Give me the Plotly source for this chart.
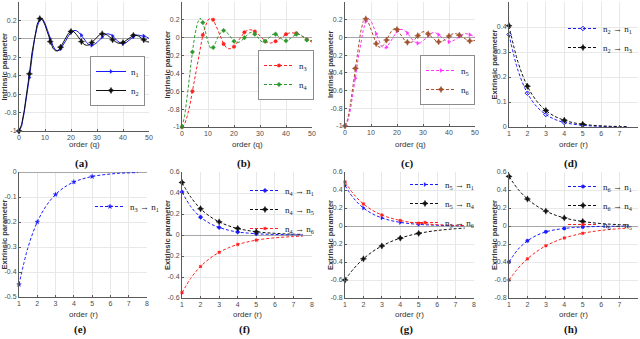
import plotly.graph_objects as go

W, H = 640, 339

# ---------------- data ----------------
q = list(range(0, 51))
n1 = [-1, -0.95, -0.8, -0.63, -0.42, -0.2, 0.0, 0.13, 0.21, 0.22, 0.17, 0.09, 0.0, -0.07, -0.12, -0.13,
      -0.11, -0.07, -0.02, 0.03, 0.07, 0.09, 0.09, 0.07, 0.04, 0.0, -0.04, -0.065, -0.07, -0.06, -0.04,
      -0.01, 0.02, 0.045, 0.055, 0.05, 0.03, 0.0, -0.025, -0.045, -0.05, -0.045, -0.025, 0.0, 0.025,
      0.04, 0.04, 0.035, 0.03, 0.02, 0.005]
n2 = [-1, -0.93, -0.78, -0.6, -0.38, -0.15, 0.03, 0.16, 0.22, 0.21, 0.15, 0.06, -0.03, -0.1, -0.13, -0.13,
      -0.09, -0.04, 0.02, 0.06, 0.08, 0.08, 0.05, 0.01, -0.03, -0.06, -0.07, -0.065, -0.04, -0.01, 0.02,
      0.045, 0.055, 0.055, 0.04, 0.015, -0.01, -0.03, -0.045, -0.05, -0.04, -0.02, 0.005, 0.025, 0.038,
      0.04, 0.03, 0.01, -0.01, -0.03, -0.035]
n3 = [-1, -0.97, -0.88, -0.76, -0.6, -0.44, -0.27, -0.11, 0.03, 0.13, 0.2, 0.22, 0.2, 0.14, 0.07, -0.01,
      -0.07, -0.11, -0.125, -0.12, -0.1, -0.06, -0.02, 0.02, 0.06, 0.08, 0.09, 0.085, 0.07, 0.05, 0.02,
      -0.01, -0.04, -0.055, -0.06, -0.055, -0.04, -0.02, 0.0, 0.02, 0.04, 0.05, 0.055, 0.055, 0.05, 0.04,
      0.02, 0.0, -0.02, -0.04, -0.05]
n4 = [-1, -0.88, -0.66, -0.4, -0.16, 0.04, 0.17, 0.22, 0.17, 0.07, -0.05, -0.12, -0.11, -0.05, 0.02, 0.06,
      0.08, 0.07, 0.03, -0.01, -0.04, -0.055, -0.05, -0.03, 0.0, 0.03, 0.055, 0.06, 0.04, 0.01, -0.03,
      -0.05, -0.04, -0.01, 0.02, 0.04, 0.04, 0.02, -0.01, -0.03, -0.035, -0.025, 0.0, 0.025, 0.04, 0.04,
      0.02, -0.005, -0.025, -0.035, -0.03]
n5 = [-1, -0.95, -0.83, -0.66, -0.46, -0.25, -0.06, 0.08, 0.18, 0.21, 0.19, 0.12, 0.04, -0.04, -0.1, -0.12,
      -0.11, -0.07, -0.02, 0.03, 0.07, 0.09, 0.09, 0.08, 0.05, 0.01, -0.03, -0.055, -0.065, -0.06, -0.04,
      -0.01, 0.02, 0.045, 0.055, 0.05, 0.03, 0.005, -0.02, -0.04, -0.05, -0.045, -0.03, -0.01, 0.015,
      0.035, 0.045, 0.04, 0.03, 0.02, 0.0]
n6 = [-1, -0.93, -0.77, -0.57, -0.35, -0.13, 0.06, 0.18, 0.21, 0.17, 0.09, 0.0, -0.07, -0.11, -0.11, -0.08,
      -0.03, 0.03, 0.08, 0.1, 0.09, 0.05, 0.0, -0.035, -0.055, -0.06, -0.05, -0.02, 0.02, 0.05, 0.065,
      0.06, 0.04, 0.01, -0.02, -0.04, -0.05, -0.05, -0.035, -0.01, 0.015, 0.035, 0.045, 0.04, 0.025,
      0.005, -0.015, -0.03, -0.04, -0.04, -0.035]

r = [1, 1.5, 2, 2.5, 3, 3.5, 4, 4.5, 5, 5.5, 6, 6.5, 7, 7.5]
d_2to1 = [0.37, 0.224, 0.135, 0.082, 0.05, 0.03, 0.018, 0.011, 0.007, 0.004, 0.0025, 0.0015, 0.001, 0.0005]
d_2to3 = [0.405, 0.257, 0.163, 0.104, 0.066, 0.042, 0.027, 0.017, 0.011, 0.007, 0.0045, 0.003, 0.002, 0.0012]
e_3to1 = [-0.45, -0.3, -0.2, -0.134, -0.09, -0.06, -0.04, -0.027, -0.018, -0.012, -0.008, -0.005, -0.0035, -0.0023]
f_4to1 = [0.41, 0.264, 0.17, 0.11, 0.072, 0.046, 0.028, 0.019, 0.012, 0.008, 0.005, 0.003, 0.002, 0.0013]
f_4to5 = [0.5, 0.354, 0.25, 0.177, 0.125, 0.088, 0.062, 0.044, 0.031, 0.022, 0.016, 0.011, 0.008, 0.0055]
f_4to6 = [-0.55, -0.405, -0.3, -0.223, -0.165, -0.122, -0.09, -0.067, -0.049, -0.036, -0.027, -0.02, -0.015, -0.011]
g_5to1 = [0.45, 0.3, 0.2, 0.134, 0.09, 0.06, 0.04, 0.027, 0.018, 0.012, 0.008, 0.005, 0.0035, 0.0023]
g_5to4 = [-0.6, -0.468, -0.365, -0.284, -0.222, -0.173, -0.135, -0.105, -0.082, -0.064, -0.05, -0.039, -0.03, -0.023]
g_5to6 = [0.49, 0.346, 0.245, 0.173, 0.122, 0.087, 0.061, 0.043, 0.031, 0.022, 0.015, 0.011, 0.008, 0.0055]
h_6to1 = [-0.4, -0.257, -0.165, -0.104, -0.065, -0.042, -0.027, -0.017, -0.011, -0.007, -0.0045, -0.003, -0.002, -0.0012]
h_6to4 = [0.55, 0.406, 0.3, 0.223, 0.166, 0.122, 0.09, 0.067, 0.05, 0.037, 0.027, 0.02, 0.015, 0.011]
h_6to5 = [-0.6, -0.468, -0.365, -0.284, -0.22, -0.172, -0.133, -0.104, -0.081, -0.063, -0.049, -0.038, -0.03, -0.023]

q_ticks = [0, 10, 20, 30, 40, 50]
q_ticktext = ["0", "10", "20", "30", "40", "50"]
r_ticks = [1, 2, 3, 4, 5, 6, 7, 8]
r_ticktext = ["1", "2", "3", "4", "5", "6", "7", "8"]
intr_yticks = [-1, -0.8, -0.6, -0.4, -0.2, 0, 0.2, 0.4]
intr_ytext = ["-1", "-0.8", "-0.6", "-0.4", "-0.2", "0", "0.2", "0.4"]
d_yticks = [0, 0.1, 0.2, 0.3, 0.4, 0.5]
d_ytext = ["0", "0.1", "0.2", "0.3", "0.4", "0.5"]
e_yticks = [-0.5, -0.4, -0.3, -0.2, -0.1, 0]
e_ytext = ["-0.5", "-0.4", "-0.3", "-0.2", "-0.1", "0"]
f_yticks = [-0.6, -0.4, -0.2, 0, 0.2, 0.4, 0.6]
f_ytext = ["-0.6", "-0.4", "-0.2", "0", "0.2", "0.4", "0.6"]
gh_yticks = [-0.8, -0.6, -0.4, -0.2, 0, 0.2, 0.4, 0.6]
gh_ytext = ["-0.8", "-0.6", "-0.4", "-0.2", "0", "0.2", "0.4", "0.6"]

panel_labels = ["(a)", "(b)", "(c)", "(d)", "(e)", "(f)", "(g)", "(h)"]

# ---------------- styles ----------------
BLUE = "#1a1aff"
BLACK = "#111111"
RED = "#ff2020"
GREEN = "#2e9a2e"
MAGENTA = "#ff33ff"
BROWN = "#a0522d"
DASH = "3px,2px"

def nm(a, b=None):
    if b is None:
        return "n<sub>%d</sub>" % a
    return "n<sub>%d</sub> \u2192 n<sub>%d</sub>" % (a, b)

# each panel: pixel box (x0, x1, ytop, ybottom), legend top-left in pixels
panels = [
    dict(box=(19, 149, 2, 131), x=q, xr=[0, 50], xt=(q_ticks, q_ticktext), yr=[-1, 0.4], yt=(intr_yticks, intr_ytext),
         ytitle="Intrinsic parameter", xtitle="order (q)", legbox=True, leg=(90, 56),
         series=[(n1, nm(1), BLUE, "solid", "triangle-right", 3.5), (n2, nm(2), BLACK, "solid", "star-diamond", 4.5)]),
    dict(box=(182, 312, 2, 127), x=q, xr=[0, 50], xt=(q_ticks, q_ticktext), yr=[-1, 0.4], yt=(intr_yticks, intr_ytext),
         ytitle="Intrinsic parameter", xtitle="order (q)", legbox=True, leg=(258, 50),
         series=[(n3, nm(3), RED, DASH, "circle", 3.5), (n4, nm(4), GREEN, DASH, "diamond", 3.5)]),
    dict(box=(345, 475, 2, 126), x=q, xr=[0, 50], xt=(q_ticks, q_ticktext), yr=[-1, 0.4], yt=(intr_yticks, intr_ytext),
         ytitle="Intrinsic parameter", xtitle="order (q)", legbox=True, leg=(420, 55),
         series=[(n5, nm(5), MAGENTA, DASH, "triangle-right", 3.5), (n6, nm(6), BROWN, DASH, "star-diamond", 4.5)]),
    dict(box=(509, 638, 2, 127), x=r, xr=[1, 8], xt=(r_ticks, r_ticktext), yr=[0, 0.5], yt=(d_yticks, d_ytext),
         ytitle="Extrinsic parameter", xtitle="order (r)", legbox=False, leg=(563, 14),
         series=[(d_2to1, nm(2, 1), BLUE, DASH, "diamond-open", 3.5), (d_2to3, nm(2, 3), BLACK, DASH, "star-diamond", 4.5)]),
    dict(box=(19, 147, 172, 297), x=r, xr=[1, 8], xt=(r_ticks, r_ticktext), yr=[-0.5, 0], yt=(e_yticks, e_ytext),
         ytitle="Extrinsic parameter", xtitle="order (r)", legbox=False, leg=(90, 192),
         series=[(e_3to1, nm(3, 1), BLUE, DASH, "star", 3.5)]),
    dict(box=(182, 312, 172, 298), x=r, xr=[1, 8], xt=(r_ticks, r_ticktext), yr=[-0.6, 0.6], yt=(f_yticks, f_ytext),
         ytitle="Extrinsic parameter", xtitle="order (r)", legbox=False, leg=(245, 176),
         series=[(f_4to1, nm(4, 1), BLUE, DASH, "diamond", 3.5), (f_4to5, nm(4, 5), BLACK, DASH, "star-diamond", 4.5),
                 (f_4to6, nm(4, 6), RED, DASH, "square", 2.5)]),
    dict(box=(345, 474, 172, 298), x=r, xr=[1, 8], xt=(r_ticks, r_ticktext), yr=[-0.8, 0.6], yt=(gh_yticks, gh_ytext),
         ytitle="Extrinsic parameter", xtitle="order (r)", legbox=False, leg=(405, 170),
         series=[(g_5to1, nm(5, 1), BLUE, DASH, "triangle-right", 3.5), (g_5to4, nm(5, 4), BLACK, DASH, "star-diamond", 4.5),
                 (g_5to6, nm(5, 6), RED, DASH, "square", 2.5)]),
    dict(box=(509, 638, 172, 298), x=r, xr=[1, 8], xt=(r_ticks, r_ticktext), yr=[-0.8, 0.6], yt=(gh_yticks, gh_ytext),
         ytitle="Extrinsic parameter", xtitle="order (r)", legbox=False, leg=(563, 172),
         series=[(h_6to1, nm(6, 1), BLUE, DASH, "circle", 3.5), (h_6to4, nm(6, 4), BLACK, DASH, "star-diamond", 4.5),
                 (h_6to5, nm(6, 5), RED, DASH, "square", 2.5)]),
]

fig = go.Figure()
annotations = []
TICKFONT = dict(family="Liberation Sans", size=7, color="#4d4d4d")

for i, p in enumerate(panels):
    k = i + 1
    xa, ya = "x%d" % k, "y%d" % k
    legname = "legend" if k == 1 else "legend%d" % k
    x0, x1, yt, yb = p["box"]
    xs = p["x"]
    intrinsic = xs is q
    # marker positions: every 4th sample (intrinsic), integer orders 1..5 (extrinsic)
    midx = list(range(0, len(xs), 4)) if intrinsic else [0, 2, 4, 6, 8]
    for ys, name, color, dash, sym, ms in p["series"]:
        mline = dict(color=color, width=1 if sym.endswith("open") else 0.4)
        fig.add_trace(go.Scatter(x=xs, y=ys, mode="lines", xaxis=xa, yaxis=ya, showlegend=False,
                                 line=dict(color=color, width=1.0, dash=dash,
                                           shape="linear" if intrinsic else "spline"),
                                 hoverinfo="skip"))
        fig.add_trace(go.Scatter(x=[xs[j] for j in midx], y=[ys[j] for j in midx], mode="markers",
                                 xaxis=xa, yaxis=ya, showlegend=False, cliponaxis=False,
                                 marker=dict(color=color, symbol=sym, size=ms, line=mline)))
        fig.add_trace(go.Scatter(x=[None], y=[None], mode="lines+markers", name=name, xaxis=xa, yaxis=ya,
                                 legend=legname, showlegend=True,
                                 line=dict(color=color, width=1.0, dash=dash),
                                 marker=dict(color=color, symbol=sym, size=ms, line=mline)))
    xdom = [x0 / W, x1 / W]
    ydom = [1 - yb / H, 1 - yt / H]
    common = dict(showgrid=True, gridcolor="#e8e8e8", gridwidth=1, automargin=False,
                  showline=True, linecolor="#5a5a5a", linewidth=1, ticks="inside", ticklen=2,
                  tickcolor="#5a5a5a", tickfont=TICKFONT, fixedrange=True)
    fig.layout["xaxis%d" % k] = dict(domain=xdom, anchor=ya, range=p["xr"], tickvals=p["xt"][0],
                                     ticktext=p["xt"][1], zeroline=False, **common)
    fig.layout["yaxis%d" % k] = dict(domain=ydom, anchor=xa, range=p["yr"], tickvals=p["yt"][0],
                                     ticktext=p["yt"][1], zeroline=True, zerolinecolor="#a8a8a8",
                                     zerolinewidth=1, **common)
    lx, ly = p["leg"]
    fig.layout[legname] = dict(x=lx / W, y=1 - ly / H, xanchor="left", yanchor="top",
                               bgcolor="white" if p["legbox"] else "rgba(255,255,255,0)",
                               bordercolor="#8c8c8c" if p["legbox"] else "rgba(0,0,0,0)",
                               borderwidth=1 if p["legbox"] else 0,
                               font=dict(family="Liberation Serif", size=9, color="#222222"),
                               itemwidth=30, tracegroupgap=0)
    # axis titles and panel label
    cx = (x0 + x1) / 2
    cy = (yt + yb) / 2
    annotations.append(dict(text="<b>%s</b>" % p["ytitle"], xref="paper", yref="paper", x=(x0 - 15) / W, y=1 - cy / H,
                            textangle=-90, showarrow=False, xanchor="center", yanchor="middle",
                            font=dict(family="Liberation Sans", size=7.5, color="#333333")))
    ytitle_px = 144 if k <= 4 else 314
    annotations.append(dict(text=p["xtitle"], xref="paper", yref="paper", x=cx / W, y=1 - ytitle_px / H,
                            showarrow=False, xanchor="center", yanchor="middle",
                            font=dict(family="Liberation Sans", size=8, color="#333333")))
    ylab = 163 if k <= 4 else 329
    annotations.append(dict(text="<b>%s</b>" % panel_labels[i], xref="paper", yref="paper", x=(cx - 3) / W,
                            y=1 - ylab / H, showarrow=False, xanchor="center", yanchor="middle",
                            font=dict(family="Liberation Serif", size=11, color="#111111")))

fig.update_layout(template="none", width=W, height=H, margin=dict(l=0, r=0, t=0, b=0, pad=0),
                  paper_bgcolor="white", plot_bgcolor="white", annotations=annotations, hovermode=False)

fig.write_html("out.html", config={"displayModeBar": False},
               post_script="document.body.style.margin='0';document.body.style.overflow='hidden';")
